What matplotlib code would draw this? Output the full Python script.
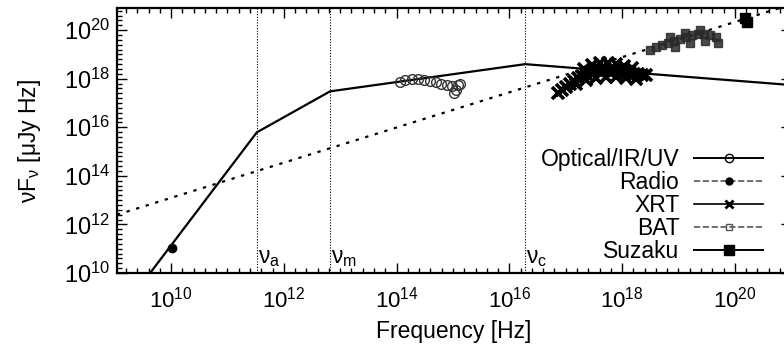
import numpy as np
import matplotlib
matplotlib.use("Agg")
import matplotlib.pyplot as plt
from matplotlib.lines import Line2D
from matplotlib.ticker import FixedLocator, NullFormatter

plt.rcParams['font.family'] = ['Liberation Sans', 'DejaVu Sans']
plt.rcParams['mathtext.fontset'] = 'custom'
plt.rcParams['mathtext.rm'] = 'Liberation Sans'
plt.rcParams['mathtext.it'] = 'Liberation Sans:italic'
plt.rcParams['mathtext.default'] = 'regular'

# all values are log10(frequency / Hz) and log10(nuF_nu / uJy Hz)
model_lognu = [9.55, 11.52, 12.82, 16.28, 21.0]
model_logf = [9.76, 15.79, 17.48, 18.60, 17.74]

ic_lognu = [9.04, 21.0]
ic_logf = [12.40, 21.06]

breaks_lognu = [11.52, 12.82, 16.28]
breaks_labels = [r'$\nu_a$', r'$\nu_m$', r'$\nu_c$']

radio_lognu = [10.02]
radio_logf = [11.03]

opt_lognu = [14.06, 14.15, 14.27, 14.38, 14.49, 14.59, 14.70, 14.79, 14.89, 14.98, 15.09, 15.12, 15.05, 15.02]
opt_logf = [17.85, 17.93, 17.98, 17.98, 17.93, 17.89, 17.85, 17.77, 17.73, 17.69, 17.73, 17.77, 17.55, 17.42]

xrt_lognu = [16.86, 16.93, 17.00, 17.07, 17.15, 17.22, 17.29, 17.36, 17.43, 17.50, 17.57, 17.64,
             17.71, 17.78, 17.86, 17.93, 18.00, 18.07, 18.14, 18.21, 18.28, 18.35, 18.42,
             17.32, 17.46, 17.60, 17.75, 17.89, 18.04, 18.17,
             17.18, 17.36, 17.54, 17.71, 17.89, 18.07, 18.24]
xrt_logf = [17.40, 17.52, 17.65, 17.77, 17.89, 18.02, 18.10, 18.18, 18.26, 18.31, 18.35, 18.35,
            18.35, 18.35, 18.35, 18.31, 18.26, 18.22, 18.22, 18.18, 18.18, 18.14, 18.14,
            18.39, 18.55, 18.64, 18.64, 18.60, 18.51, 18.43,
            17.77, 17.93, 18.02, 18.06, 18.06, 18.02, 17.98]

bat_lognu = [18.49, 18.60, 18.71, 18.81, 18.92, 19.03, 19.13, 19.24, 19.34, 19.45, 19.56, 19.66, 19.70,
             18.85, 19.11, 19.38, 18.94, 19.20, 19.47]
bat_logf = [19.17, 19.30, 19.38, 19.46, 19.55, 19.63, 19.71, 19.79, 19.84, 19.84, 19.79, 19.71, 19.46,
            19.71, 19.88, 20.00, 19.30, 19.46, 19.55]

suzaku_lognu = [20.18, 20.21]
suzaku_logf = [20.48, 20.32]

legend_labels = ['Optical/IR/UV', 'Radio', 'XRT', 'BAT', 'Suzaku']

fig = plt.figure(figsize=(7.84, 3.5), dpi=100)
ax = fig.add_axes([0.1492, 0.22, 0.860, 0.757])
ax.set_xscale('log')
ax.set_yscale('log')

p = lambda a: 10.0 ** np.array(a)

ax.plot(p(model_lognu), p(model_logf), color='black', lw=1.6)
ax.plot(p(ic_lognu), p(ic_logf), color='black', lw=1.6, linestyle=(0, (1.5, 3)))

for b, lab in zip(breaks_lognu, breaks_labels):
    ax.axvline(10 ** b, color='black', lw=0.8, linestyle=(0, (1, 1.5)))
    ax.text(10 ** (b + 0.02), 10 ** 10.15, lab, fontsize=16.5, ha='left', va='bottom')

ax.plot(p(radio_lognu), p(radio_logf), 'o', color='black', ms=6)
ax.plot(p(opt_lognu), p(opt_logf), 'o', mfc='none', mec='#333333', ms=7, mew=1.0)
ax.plot(p(xrt_lognu), p(xrt_logf), 'x', color='black', ms=8, mew=2.6)
ax.plot(p(bat_lognu), p(bat_logf), 's', color='#2a2a2a', ms=6, alpha=0.85)
ax.plot(p(suzaku_lognu), p(suzaku_logf), 's', color='black', ms=7.5)

ax.set_xlim(10 ** 9.04, 10 ** 21.0)
ax.set_ylim(1e10, 10 ** 20.91)

ax.xaxis.set_major_locator(FixedLocator(10.0 ** np.arange(10, 21, 2)))
ax.xaxis.set_minor_locator(FixedLocator(10.0 ** np.arange(9.2, 21.0, 0.2)))
ax.yaxis.set_major_locator(FixedLocator(10.0 ** np.arange(10, 21, 2)))
ax.yaxis.set_minor_locator(FixedLocator(10.0 ** np.arange(10.2, 21.0, 0.2)))
ax.xaxis.set_minor_formatter(NullFormatter())
ax.yaxis.set_minor_formatter(NullFormatter())
ax.set_xticklabels([r'$10^{%d}$' % e for e in range(10, 21, 2)])
ax.set_yticklabels([r'$10^{%d}$' % e for e in range(10, 21, 2)])
ax.tick_params(which='both', direction='in', top=True, right=True, width=1.0)
ax.tick_params(axis='x', labelsize=16, pad=10)
ax.tick_params(axis='y', labelsize=17, pad=5)
ax.tick_params(which='major', length=7)
ax.tick_params(which='minor', length=3.5)
for s in ax.spines.values():
    s.set_linewidth(1.6)

ax.set_xlabel('Frequency [Hz]', fontsize=16.5, labelpad=5)
ax.set_ylabel(r'$\nu$F$_\nu$ [$\mu$Jy Hz]', fontsize=16.5, labelpad=15)

handles = [
    Line2D([], [], color='black', lw=1.4, marker='o', mfc='none', ms=6),
    Line2D([], [], color='#555555', lw=1.2, linestyle='--', marker='o', mfc='black', mec='black', ms=5),
    Line2D([], [], color='black', lw=1.2, marker='x', ms=6, mew=2),
    Line2D([], [], color='#555555', lw=1.2, linestyle='--', marker='s', mfc='none', ms=5),
    Line2D([], [], color='black', lw=1.4, marker='s', ms=7),
]
fig.legend(handles, legend_labels, loc='lower right', bbox_to_anchor=(763 / 784, 87 / 350),
           bbox_transform=fig.transFigure, frameon=False, markerfirst=False, fontsize=16.5,
           handlelength=3.0, handletextpad=0.65, labelspacing=0.0, borderpad=0, borderaxespad=0)

fig.savefig('out.png', dpi=100)
